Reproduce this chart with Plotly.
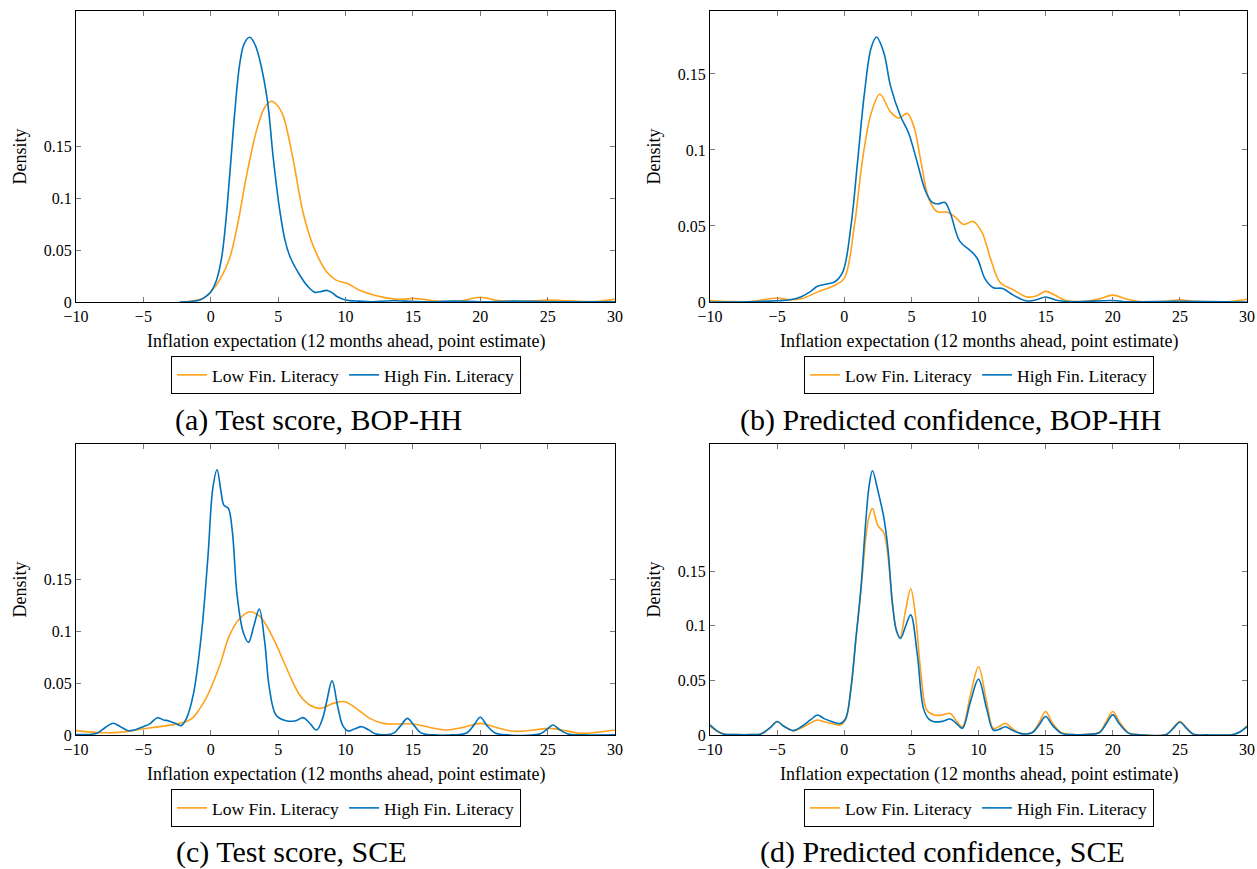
import plotly.graph_objects as go

# ---------------- data ----------------
x_ticks = [-10, -5, 0, 5, 10, 15, 20, 25, 30]
x_tick_labels = ["\u221210", "\u22125", "0", "5", "10", "15", "20", "25", "30"]
y_ticks = [0, 0.05, 0.1, 0.15]
y_tick_labels = ["0", "0.05", "0.1", "0.15"]

series_names = ["Low Fin. Literacy", "High Fin. Literacy"]
captions = ["(a) Test score, BOP-HH", "(b) Predicted confidence, BOP-HH",
            "(c) Test score, SCE", "(d) Predicted confidence, SCE"]
x_title = "Inflation expectation (12 months ahead, point estimate)"

# (a) Test score, BOP-HH
a_low_x = [-2.3, -1.5, -0.5, 0, 0.7, 1.4, 2.0, 2.65, 3.4, 4.0, 4.5, 5.0, 5.4, 6.1, 6.85, 7.6, 8.6, 9.3,
           10.1, 11.1, 12.3, 13.5, 14.2, 15, 15.8, 17, 18.5, 20, 21.3, 22.5, 24, 25, 26.5, 28, 29, 30]
a_low_y = [0.0, 0.0008, 0.004, 0.0096, 0.022, 0.042, 0.075, 0.121, 0.165, 0.187, 0.193, 0.188, 0.178,
           0.138, 0.086, 0.054, 0.029, 0.021, 0.018, 0.011, 0.006, 0.003, 0.0025, 0.0035, 0.0025, 0.0006,
           0.001, 0.0045, 0.0015, 0.0008, 0.0012, 0.0018, 0.0012, 0.0005, 0.001, 0.0028]
a_high_x = [-2.3, -1.5, -0.8, -0.3, 0, 0.4, 0.8, 1.1, 1.4, 1.8, 2.15, 2.5, 2.9, 3.3, 3.65, 4.2, 4.65,
            5.1, 5.5, 5.9, 6.6, 7.2, 7.7, 8.1, 8.6, 9.0, 9.4, 10, 11, 12, 13, 13.7, 14.5, 16, 18, 20,
            22.5, 25, 30]
a_high_y = [0.0, 0.0005, 0.002, 0.006, 0.0096, 0.02, 0.042, 0.075, 0.121, 0.185, 0.229, 0.249, 0.2545,
            0.247, 0.232, 0.194, 0.137, 0.09, 0.06, 0.043, 0.026, 0.015, 0.0095, 0.0098, 0.0112, 0.009,
            0.005, 0.002, 0.0008, 0.0003, 0.001, 0.0012, 0.0008, 0.0003, 0.0008, 0.0003, 0.0008, 0.0003,
            0.0001]

# (b) Predicted confidence, BOP-HH
b_low_x = [-10, -8.5, -7, -5, -4.2, -3.2, -2.0, -0.7, 0, 0.75, 1.35, 2.0, 2.65, 3.45, 4.05, 4.7, 5.2,
           5.7, 6.3, 6.9, 7.7, 8.3, 8.9, 9.6, 10.25, 10.9, 11.6, 12.6, 13.6, 14.3, 15, 15.7, 16.5, 18,
           19, 20, 21, 22, 24, 25, 26, 28.5, 30]
b_low_y = [0.001, 0.0003, 0.0003, 0.0026, 0.0016, 0.0022, 0.0065, 0.011, 0.0155, 0.05, 0.093, 0.124,
           0.1366, 0.125, 0.121, 0.124, 0.115, 0.093, 0.068, 0.0595, 0.059, 0.0555, 0.051, 0.053, 0.046,
           0.0285, 0.013, 0.008, 0.0033, 0.004, 0.007, 0.0045, 0.001, 0.0005, 0.002, 0.0045, 0.002,
           0.0003, 0.0005, 0.0015, 0.0005, 0.0002, 0.0018]
b_high_x = [-10, -7, -5, -4, -3.2, -2.5, -2.0, -1.3, -0.7, -0.1, 0.5, 1.0, 1.5, 2.0, 2.4, 2.95, 3.45,
            4.2, 4.8, 5.4, 6.05, 6.55, 7.0, 7.5, 7.9, 8.6, 9.4, 9.9, 10.5, 11.1, 11.8, 12.6, 13.6,
            14.3, 15, 15.8, 17, 20, 21, 25, 30]
b_high_y = [0.0, 0.0002, 0.0008, 0.0015, 0.0035, 0.007, 0.0103, 0.0118, 0.0133, 0.02, 0.05, 0.093,
            0.137, 0.167, 0.1743, 0.164, 0.142, 0.122, 0.111, 0.093, 0.073, 0.0655, 0.0645, 0.0655,
            0.0585, 0.04, 0.0337, 0.0288, 0.015, 0.0094, 0.0089, 0.0045, 0.0007, 0.0015, 0.0033,
            0.0012, 0.0002, 0.001, 0.0002, 0.0005, 0.0]

# (c) Test score, SCE
c_low_x = [-10, -8.5, -7.7, -6.5, -5, -3.5, -2.3, -1.8, -1.3, -0.8, -0.4, 0, 0.67, 1.4, 2.15, 2.9,
           3.64, 4.4, 5.1, 5.85, 6.6, 7.35, 8.1, 9.1, 9.95, 10.8, 11.8, 12.8, 13.8, 15, 16.2, 17.5,
           18.8, 20, 21.2, 22.4, 23.8, 25.2, 26.4, 27.4, 28.6, 30]
c_low_y = [0.0042, 0.0025, 0.0021, 0.003, 0.006, 0.0085, 0.0112, 0.013, 0.017, 0.0256, 0.034, 0.045,
           0.067, 0.096, 0.112, 0.1185, 0.114, 0.099, 0.08, 0.0577, 0.0385, 0.0288, 0.0256, 0.0304,
           0.032, 0.0256, 0.016, 0.0112, 0.0106, 0.0106, 0.0075, 0.0048, 0.0075, 0.0112, 0.0072,
           0.0036, 0.0045, 0.0064, 0.004, 0.0016, 0.0025, 0.0048]
c_high_x = [-10, -9, -8.4, -7.8, -7.25, -6.7, -6.1, -5.5, -5, -4.5, -3.95, -3.5, -3.1, -2.6, -2.2,
            -1.8, -1.3, -0.7, -0.2, 0.15, 0.47, 0.75, 0.97, 1.3, 1.6, 1.95, 2.4, 2.8, 3.2, 3.6, 4.0,
            4.35, 4.85, 5.6, 6.3, 6.85, 7.3, 7.85, 8.3, 8.6, 9.0, 9.45, 9.8, 10.2, 10.7, 11.2, 11.7,
            12.2, 13, 13.6, 14.1, 14.6, 15.1, 15.6, 16.5, 18, 19, 19.5, 20, 20.5, 21.1, 22, 24, 24.5,
            25, 25.4, 25.9, 26.5, 27.5, 30]
c_high_y = [0.0005, 0.0005, 0.002, 0.0075, 0.0113, 0.008, 0.0041, 0.0055, 0.008, 0.011, 0.0166,
            0.0145, 0.0135, 0.011, 0.009, 0.016, 0.0385, 0.096, 0.173, 0.237, 0.255, 0.235, 0.221,
            0.218, 0.196, 0.135, 0.0993, 0.0891, 0.105, 0.121, 0.09, 0.045, 0.019, 0.0137, 0.0137,
            0.0167, 0.012, 0.0048, 0.016, 0.032, 0.052, 0.0256, 0.009, 0.0038, 0.006, 0.008, 0.005,
            0.0012, 0.0002, 0.002, 0.009, 0.016, 0.009, 0.002, 0.0001, 0.0001, 0.002, 0.009, 0.017,
            0.009, 0.002, 0.0001, 0.0001, 0.0015, 0.006, 0.0096, 0.005, 0.001, 0.0001, 0.0001]

# (d) Predicted confidence, SCE
d_low_x = [-10, -9.5, -9, -8, -7, -6.2, -5.5, -5, -4.5, -3.8, -3.2, -2.5, -2.0, -1.5, -1.0, -0.3,
           0.1, 0.5, 0.87, 1.24, 1.6, 1.85, 2.1, 2.5, 2.95, 3.25, 3.6, 3.9, 4.15, 4.55, 4.95, 5.3, 5.7,
           6.15, 6.7, 7.3, 7.9, 8.4, 8.8, 9.4, 10, 10.6, 11.1, 11.5, 12, 12.5, 13.1, 14, 14.5, 15,
           15.5, 16.2, 17, 18, 19, 19.5, 20, 20.5, 21.2, 22, 24, 24.5, 25, 25.5, 26, 27, 29, 29.5, 30]
d_low_y = [0.008, 0.0035, 0.001, 0.0003, 0.0003, 0.001, 0.007, 0.0123, 0.008, 0.004, 0.0065, 0.011,
           0.0137, 0.0122, 0.0107, 0.0092, 0.014, 0.043, 0.088, 0.132, 0.18, 0.2, 0.2074, 0.192, 0.185,
           0.165, 0.119, 0.095, 0.089, 0.113, 0.134, 0.11, 0.058, 0.0229, 0.0183, 0.0183, 0.0198,
           0.012, 0.0076, 0.0366, 0.0625, 0.0305, 0.006, 0.0075, 0.0107, 0.006, 0.0015, 0.0025, 0.011,
           0.0215, 0.011, 0.002, 0.0003, 0.0007, 0.0025, 0.012, 0.0215, 0.012, 0.002, 0.0002, 0.0005,
           0.0065, 0.0123, 0.0065, 0.0008, 0.0001, 0.0005, 0.003, 0.0083]
d_high_x = [-10, -9.5, -9, -8, -7, -6.2, -5.5, -5, -4.5, -3.8, -3.2, -2.5, -2.0, -1.5, -1.0, -0.3,
            0.1, 0.5, 0.87, 1.24, 1.6, 1.85, 2.1, 2.5, 2.95, 3.25, 3.6, 3.9, 4.2, 4.55, 4.95, 5.45,
            5.9, 6.3, 6.7, 7.3, 7.9, 8.4, 8.8, 9.4, 10, 10.6, 11.1, 11.5, 12, 12.5, 13.1, 14, 14.5,
            15, 15.5, 16.2, 17, 18, 19, 19.5, 20, 20.5, 21.2, 22, 24, 24.5, 25, 25.5, 26, 27, 29,
            29.5, 30]
d_high_y = [0.0092, 0.004, 0.001, 0.0003, 0.0003, 0.001, 0.007, 0.0123, 0.008, 0.004, 0.0076, 0.014,
            0.0183, 0.015, 0.0125, 0.0105, 0.015, 0.0427, 0.0885, 0.134, 0.195, 0.228, 0.242, 0.224,
            0.199, 0.171, 0.119, 0.095, 0.0885, 0.099, 0.11, 0.073, 0.0244, 0.0145, 0.0122, 0.0125,
            0.0146, 0.01, 0.0061, 0.0305, 0.0512, 0.0244, 0.0046, 0.005, 0.0076, 0.0045, 0.0015,
            0.002, 0.009, 0.0169, 0.009, 0.0015, 0.0003, 0.0005, 0.002, 0.01, 0.0184, 0.01, 0.0015,
            0.0002, 0.0005, 0.006, 0.0117, 0.006, 0.0008, 0.0001, 0.0005, 0.003, 0.0077]

panels = [
    (a_low_x, a_low_y, a_high_x, a_high_y, 0.2798),
    (b_low_x, b_low_y, b_high_x, b_high_y, 0.1914),
    (c_low_x, c_low_y, c_high_x, c_high_y, 0.2798),
    (d_low_x, d_low_y, d_high_x, d_high_y, 0.2665),
]

# ---------------- layout ----------------
W, H = 1257, 869
FONT = "Liberation Serif"
ORANGE = "#FFA11A"
BLUE = "#0072BD"
# plot frames in pixels: (left, right, top, bottom)
frames = [(76, 615, 11, 302), (710, 1247, 11, 302), (76, 615, 444, 735), (710, 1247, 444, 735)]

fig = go.Figure()
layout = dict(width=W, height=H, margin=dict(l=0, r=0, t=0, b=0, autoexpand=False),
              paper_bgcolor="white", plot_bgcolor="white",
              font=dict(family=FONT, color="black"), annotations=[])

for i, (lx, ly, hx, hy, ymax) in enumerate(panels):
    n = i + 1
    xa = "x" if n == 1 else f"x{n}"
    ya = "y" if n == 1 else f"y{n}"
    leg = "legend" if n == 1 else f"legend{n}"
    fig.add_trace(go.Scatter(x=lx, y=ly, mode="lines", name=series_names[0],
                             line=dict(color=ORANGE, width=1.6, shape="spline", smoothing=1.0),
                             xaxis=xa, yaxis=ya, legend=leg))
    fig.add_trace(go.Scatter(x=hx, y=hy, mode="lines", name=series_names[1],
                             line=dict(color=BLUE, width=1.6, shape="spline", smoothing=1.0),
                             xaxis=xa, yaxis=ya, legend=leg))
    L, R, T, B = frames[i]
    xkey = "xaxis" if n == 1 else f"xaxis{n}"
    ykey = "yaxis" if n == 1 else f"yaxis{n}"
    layout[xkey] = dict(domain=[L / W, R / W], range=[-10, 30], anchor=ya, automargin=False,
                        tickvals=x_ticks, ticktext=x_tick_labels, ticks="inside", ticklen=5,
                        tickcolor="#7a7a7a", showline=True, linecolor="black", linewidth=1,
                        mirror="allticks", showgrid=False, zeroline=False,
                        tickfont=dict(family=FONT, size=16))
    layout[ykey] = dict(domain=[1 - B / H, 1 - T / H], range=[0, ymax], anchor=xa, automargin=False,
                        tickvals=y_ticks, ticktext=y_tick_labels, ticks="inside", ticklen=5,
                        tickcolor="#7a7a7a", showline=True, linecolor="black", linewidth=1,
                        mirror="allticks", showgrid=False, zeroline=False,
                        tickfont=dict(family=FONT, size=16))
    cx = (L + R) / 2
    layout[leg] = dict(orientation="h", x=(cx + 0.5) / W, xanchor="center",
                       y=1 - (B + 73) / H, yanchor="middle", bordercolor="black", borderwidth=1,
                       bgcolor="white", font=dict(family=FONT, size=17.5), itemwidth=30,
                       tracegroupgap=0)
    layout["annotations"].append(dict(text=x_title, x=cx / W, y=1 - (B + 39) / H, xref="paper",
                                      yref="paper", showarrow=False, xanchor="center",
                                      yanchor="middle", font=dict(family=FONT, size=18)))
    layout["annotations"].append(dict(text="Density", x=(L - 57) / W, y=1 - ((T + B) / 2) / H,
                                      xref="paper", yref="paper", showarrow=False, textangle=-90,
                                      xanchor="center", yanchor="middle",
                                      font=dict(family=FONT, size=18)))

caption_pos = [(318, 420), (951, 420), (291, 852), (942, 852)]
for cap, (cx, cy) in zip(captions, caption_pos):
    layout["annotations"].append(dict(text=cap, x=cx / W, y=1 - cy / H, xref="paper", yref="paper",
                                      showarrow=False, xanchor="center", yanchor="middle",
                                      font=dict(family=FONT, size=30)))

fig.update_layout(**layout)
fig.write_html("out.html", config={"displayModeBar": False},
               post_script="document.body.style.margin='0';document.body.style.overflow='hidden';")
